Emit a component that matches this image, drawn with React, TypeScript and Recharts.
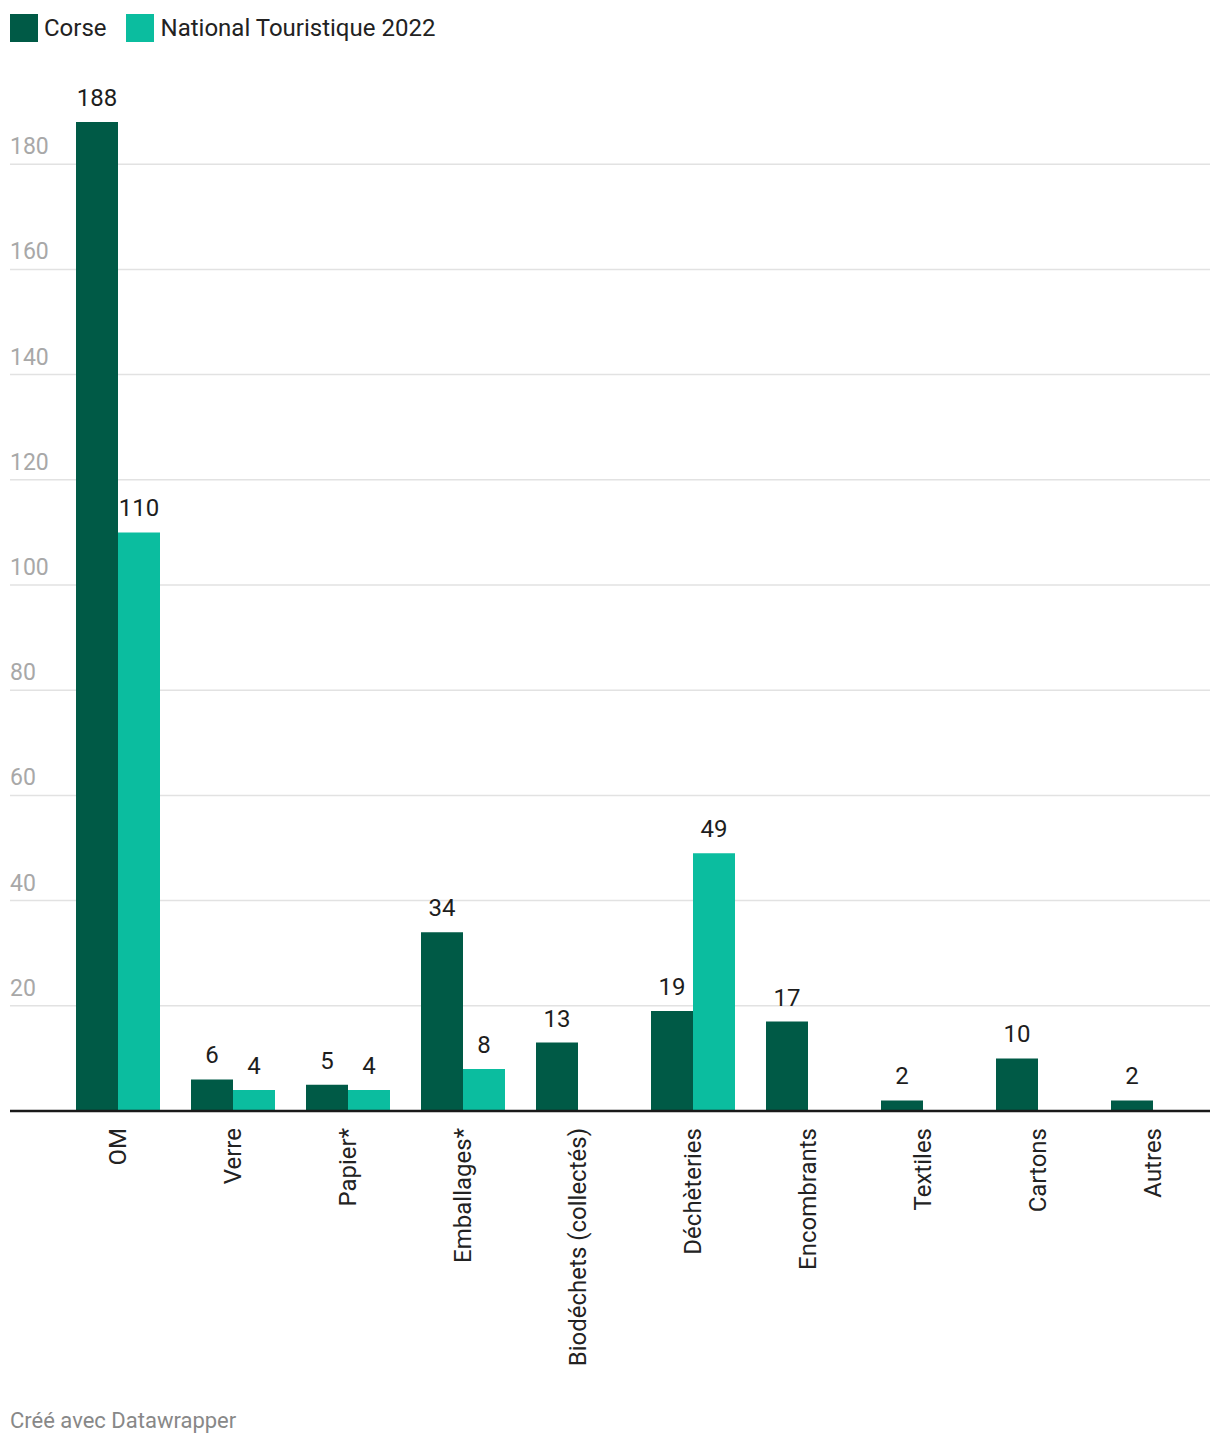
import React from 'react';
import { BarChart, Bar, XAxis, YAxis, CartesianGrid, LabelList } from 'recharts';

const categories = [
  'OM',
  'Verre',
  'Papier*',
  'Emballages*',
  'Biodéchets (collectés)',
  'Déchèteries',
  'Encombrants',
  'Textiles',
  'Cartons',
  'Autres',
];
const corse = [188, 6, 5, 34, 13, 19, 17, 2, 10, 2];
const national: (number | null)[] = [110, 4, 4, 8, null, 49, null, null, null, null];
const yTicks = [0, 20, 40, 60, 80, 100, 120, 140, 160, 180];

const DARK = '#005a46';
const TEAL = '#0bbd9f';
const FONT = 'Roboto, sans-serif';

const data = categories.map((name, i) => ({ name, corse: corse[i], national: national[i] }));

const YTick = (props: any) => {
  const { y, payload } = props;
  if (payload.value === 0) return null;
  return (
    <text x={10} y={y - 10} fill="#a8a8a8" fontSize={23} fontFamily={FONT}>
      {payload.value}
    </text>
  );
};

const XTick = (props: any) => {
  const { x, payload } = props;
  const y = 1128;
  return (
    <text
      x={x}
      y={y}
      dy="0.36em"
      transform={`rotate(-90, ${x}, ${y})`}
      textAnchor="end"
      fill="#222"
      fontSize={24}
      fontFamily={FONT}
    >
      {payload.value}
    </text>
  );
};

const gridLine = (p: any) => {
  if (p.y1 < 100) return <g key={`g-${p.index}`} />;
  return (
    <line
      key={`g-${p.index}`}
      x1={p.x1}
      x2={p.x2}
      y1={p.y1}
      y2={p.y2}
      stroke="#e2e2e2"
      strokeWidth={1.5}
    />
  );
};

const labelStyle = { fill: '#1d1d1d', fontSize: 24, fontFamily: FONT };

export default function App() {
  return (
    <div style={{ position: 'absolute', left: 0, top: 0, width: 1220, height: 1448, background: '#fff', fontFamily: FONT }}>
      <div style={{ position: 'absolute', left: 10, top: 14, display: 'flex', alignItems: 'center', fontSize: 24, color: '#222' }}>
        <span style={{ width: 28, height: 28, background: DARK, display: 'inline-block' }} />
        <span style={{ marginLeft: 6 }}>Corse</span>
        <span style={{ width: 28, height: 28, background: TEAL, display: 'inline-block', marginLeft: 19 }} />
        <span style={{ marginLeft: 7 }}>National Touristique 2022</span>
      </div>
      <div style={{ position: 'absolute', left: 0, top: 0 }}>
        <BarChart
          width={1220}
          height={1400}
          data={data}
          margin={{ top: 59, right: 10, left: 10, bottom: 0 }}
          barGap={0}
        >
          <CartesianGrid vertical={false} horizontal={gridLine} />
          <YAxis
            width={60}
            mirror
            domain={[0, 200]}
            ticks={yTicks}
            axisLine={false}
            tickLine={false}
            tick={YTick}
          />
          <XAxis
            dataKey="name"
            interval={0}
            height={289}
            padding={{ left: 50, right: 0 }}
            axisLine={{ stroke: '#1a1a1a', strokeWidth: 2.5 }}
            tickLine={false}
            tick={XTick}
          />
          <Bar dataKey="corse" fill={DARK} barSize={42} isAnimationActive={false}>
            <LabelList dataKey="corse" position="top" offset={16} style={labelStyle} />
          </Bar>
          <Bar dataKey="national" fill={TEAL} barSize={42} isAnimationActive={false}>
            <LabelList dataKey="national" position="top" offset={16} style={labelStyle} />
          </Bar>
        </BarChart>
      </div>
      <div style={{ position: 'absolute', left: 10, top: 1408, fontSize: 22, color: '#888' }}>
        Créé avec Datawrapper
      </div>
    </div>
  );
}
